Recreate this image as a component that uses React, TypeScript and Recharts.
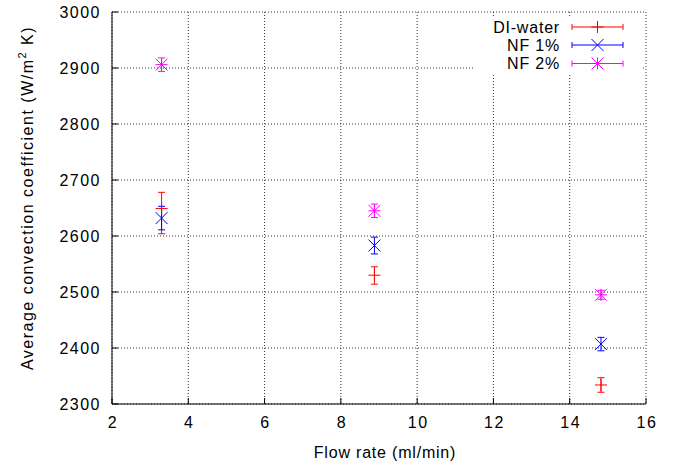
import React from 'react';
import { ScatterChart, Scatter, XAxis, YAxis, CartesianGrid, ErrorBar } from 'recharts';

const flowRates = [3.3, 8.88, 14.82];
const diWater = [2649, 2530, 2334];
const diWaterErrLow = [45, 16, 13];
const diWaterErrHigh = [29, 15, 13];
const nf1 = [2632, 2583, 2407];
const nf1Err = [21, 15, 12];
const nf2 = [2906, 2645, 2495];
const nf2Err = [12, 12, 8];
const xTicks = [2, 4, 6, 8, 10, 12, 14, 16];
const yTicks = [2300, 2400, 2500, 2600, 2700, 2800, 2900, 3000];

const FONT = '"Liberation Sans", Arial, Helvetica, sans-serif';
const FS = 16;
const LS = 0.8;
const TICK_LS = 1.5;

const RED = '#ff0000';
const BLUE = '#0000ff';
const MAGENTA = '#ff00ff';

const diData = flowRates.map((x, i) => ({ x, y: diWater[i], err: [diWaterErrLow[i], diWaterErrHigh[i]] }));
const nf1Data = flowRates.map((x, i) => ({ x, y: nf1[i], err: [nf1Err[i], nf1Err[i]] }));
const nf2Data = flowRates.map((x, i) => ({ x, y: nf2[i], err: [nf2Err[i], nf2Err[i]] }));

const plusPath = (cx: number, cy: number, r: number) => `M${cx - r},${cy}H${cx + r}M${cx},${cy - r}V${cy + r}`;
const crossPath = (cx: number, cy: number, r: number) =>
  `M${cx - r},${cy - r}L${cx + r},${cy + r}M${cx + r},${cy - r}L${cx - r},${cy + r}`;
const starPath = (cx: number, cy: number, r: number) => plusPath(cx, cy, r) + crossPath(cx, cy, r);

const makeShape = (kind: string, color: string) => (props: any) => {
  const { cx, cy } = props;
  if (cx == null || cy == null) return <g />;
  const d = kind === 'plus' ? plusPath(cx, cy, 6) : kind === 'cross' ? crossPath(cx, cy, 6) : starPath(cx, cy, 6);
  return <path d={d} stroke={color} strokeWidth={1} fill="none" />;
};

const BottomTick = (props: any) => {
  const { x, y, payload } = props;
  return (
    <g>
      <line x1={x} y1={y} x2={x} y2={y - 6} stroke="#000" />
      <text x={x + 1} y={y + 18} dy="0.35em" textAnchor="middle" fontFamily={FONT} fontSize={FS} letterSpacing={TICK_LS} fill="#000">
        {payload.value}
      </text>
    </g>
  );
};

const TopTick = (props: any) => {
  const { x, y } = props;
  return <line x1={x} y1={y} x2={x} y2={y + 6} stroke="#000" />;
};

const LeftTick = (props: any) => {
  const { x, y, payload } = props;
  return (
    <g>
      <line x1={x} y1={y} x2={x + 6} y2={y} stroke="#000" />
      <text x={x - 11} y={y} dy="0.35em" textAnchor="end" fontFamily={FONT} fontSize={FS} letterSpacing={TICK_LS} fill="#000">
        {payload.value}
      </text>
    </g>
  );
};

const RightTick = (props: any) => {
  const { x, y } = props;
  return <line x1={x} y1={y} x2={x - 6} y2={y} stroke="#000" />;
};

const XLabel = (props: any) => {
  const vb = props.viewBox || { x: 112, y: 404, width: 534, height: 61 };
  return (
    <text x={vb.x + vb.width / 2 + 6} y={vb.y + 48} dy="0.35em" textAnchor="middle" fontFamily={FONT} fontSize={FS} letterSpacing={LS} fill="#000">
      Flow rate (ml/min)
    </text>
  );
};

const YLabel = (props: any) => {
  const vb = props.viewBox || { x: 0, y: 12, width: 112, height: 392 };
  const cx = 33;
  const cy = vb.y + vb.height / 2 - 10;
  return (
    <text x={cx} y={cy} transform={`rotate(-90, ${cx}, ${cy})`} textAnchor="middle" fontFamily={FONT} fontSize={FS} letterSpacing={1.5} fill="#000">
      Average convection coefficient (W/m
      <tspan dy={-7} fontSize={11}>2</tspan>
      <tspan dy={7}> K)</tspan>
    </text>
  );
};

const legendItems = [
  { name: 'DI-water', color: RED, kind: 'plus' },
  { name: 'NF 1%', color: BLUE, kind: 'cross' },
  { name: 'NF 2%', color: MAGENTA, kind: 'star' },
];

const LegendOverlay = () => {
  const rowY = [27, 45, 63.5];
  const x1 = 572;
  const x2 = 623;
  const mid = (x1 + x2) / 2;
  return (
    <svg width={675} height={465} style={{ position: 'absolute', left: 0, top: 0, pointerEvents: 'none' }}>
      <rect x={473} y={18} width={168} height={56} fill="#fff" />
      {legendItems.map((it, i) => {
        const y = rowY[i];
        const d = it.kind === 'plus' ? plusPath(mid, y, 6) : it.kind === 'cross' ? crossPath(mid, y, 6) : starPath(mid, y, 6);
        return (
          <g key={it.name}>
            <text x={560} y={y} dy="0.35em" textAnchor="end" fontFamily={FONT} fontSize={FS} letterSpacing={LS} fill="#000">
              {it.name}
            </text>
            <path d={`M${x1},${y}H${x2}M${x1},${y - 3}V${y + 3}M${x2},${y - 3}V${y + 3}`} stroke={it.color} strokeWidth={1} fill="none" />
            <path d={d} stroke={it.color} strokeWidth={1} fill="none" />
          </g>
        );
      })}
    </svg>
  );
};

export default function App() {
  return (
    <div style={{ position: 'absolute', left: 0, top: 0, width: 675, height: 465, background: '#fff' }}>
      <ScatterChart width={675} height={465} margin={{ top: 12, right: 29, bottom: 0, left: 0 }}>
        <CartesianGrid stroke="#333" strokeDasharray="1 2" />
        <XAxis
          dataKey="x"
          type="number"
          domain={[2, 16]}
          ticks={xTicks}
          height={61}
          tickSize={0}
          tickMargin={0}
          tickLine={false}
          axisLine={{ stroke: '#000' }}
          tick={<BottomTick />}
          label={<XLabel />}
          allowDataOverflow
        />
        <XAxis
          xAxisId="top"
          orientation="top"
          type="number"
          domain={[2, 16]}
          ticks={xTicks}
          height={0}
          tickSize={0}
          tickMargin={0}
          tickLine={false}
          axisLine={{ stroke: '#000' }}
          tick={<TopTick />}
          allowDataOverflow
        />
        <YAxis
          dataKey="y"
          type="number"
          domain={[2300, 3000]}
          ticks={yTicks}
          width={112}
          tickSize={0}
          tickMargin={0}
          tickLine={false}
          axisLine={{ stroke: '#000' }}
          tick={<LeftTick />}
          label={<YLabel />}
          allowDataOverflow
        />
        <YAxis
          yAxisId="right"
          orientation="right"
          type="number"
          domain={[2300, 3000]}
          ticks={yTicks}
          width={0}
          tickSize={0}
          tickMargin={0}
          tickLine={false}
          axisLine={{ stroke: '#000' }}
          tick={<RightTick />}
          allowDataOverflow
        />
        <Scatter name="DI-water" data={diData} isAnimationActive={false} shape={makeShape('plus', RED)}>
          <ErrorBar dataKey="err" direction="y" width={3.5} stroke={RED} strokeWidth={1} isAnimationActive={false} />
        </Scatter>
        <Scatter name="NF 1%" data={nf1Data} isAnimationActive={false} shape={makeShape('cross', BLUE)}>
          <ErrorBar dataKey="err" direction="y" width={3.5} stroke={BLUE} strokeWidth={1} isAnimationActive={false} />
        </Scatter>
        <Scatter name="NF 2%" data={nf2Data} isAnimationActive={false} shape={makeShape('star', MAGENTA)}>
          <ErrorBar dataKey="err" direction="y" width={3.5} stroke={MAGENTA} strokeWidth={1} isAnimationActive={false} />
        </Scatter>
      </ScatterChart>
      <LegendOverlay />
    </div>
  );
}
